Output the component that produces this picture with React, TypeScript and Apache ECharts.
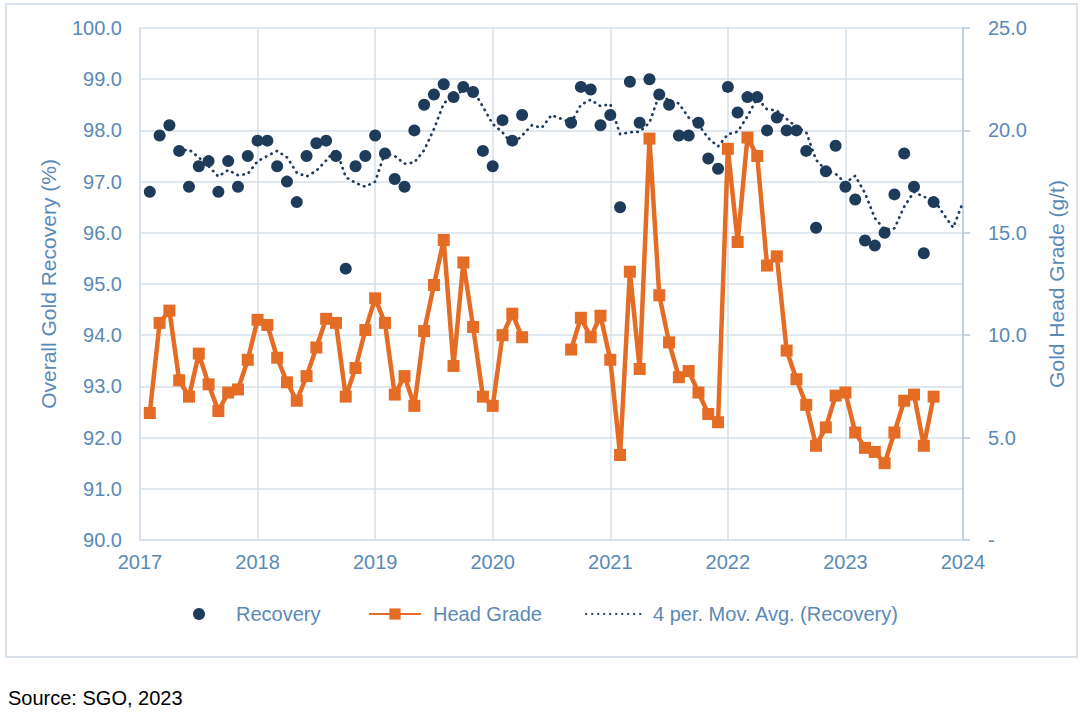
import React, { useEffect, useRef } from 'react';
import * as echarts from 'echarts';

// monthly figures, Jan 2017 .. Dec 2023 (null = no data that month)
const months: string[] = [];
for (let y = 2017; y <= 2023; y++) {
  for (let m = 1; m <= 12; m++) months.push(`${y}-${String(m).padStart(2, '0')}`);
}

const recovery: (number | null)[] = [
  96.8, 97.9, 98.1, 97.6, 96.9, 97.3, 97.4, 96.8, 97.4, 96.9, 97.5, 97.8,
  97.8, 97.3, 97.0, 96.6, 97.5, 97.75, 97.8, 97.5, 95.3, 97.3, 97.5, 97.9,
  97.55, 97.05, 96.9, 98.0, 98.5, 98.7, 98.9, 98.65, 98.85, 98.75, 97.6, 97.3,
  98.2, 97.8, 98.3, null, null, null, null, 98.15, 98.85, 98.8, 98.1, 98.3,
  96.5, 98.95, 98.15, 99.0, 98.7, 98.5, 97.9, 97.9, 98.15, 97.45, 97.25, 98.85,
  98.35, 98.65, 98.65, 98.0, 98.25, 98.0, 98.0, 97.6, 96.1, 97.2, 97.7, 96.9,
  96.65, 95.85, 95.75, 96.0, 96.75, 97.55, 96.9, 95.6, 96.6, null, null, null,
];

const headGrade: (number | null)[] = [
  6.2, 10.6, 11.2, 7.8, 7.0, 9.1, 7.6, 6.3, 7.2, 7.35, 8.8, 10.75,
  10.5, 8.9, 7.7, 6.8, 8.0, 9.4, 10.8, 10.6, 7.0, 8.4, 10.25, 11.8,
  10.6, 7.1, 8.0, 6.55, 10.2, 12.45, 14.65, 8.5, 13.55, 10.4, 7.0, 6.55,
  10.0, 11.05, 9.9, null, null, null, null, 9.3, 10.85, 9.9, 10.95, 8.8,
  4.15, 13.1, 8.35, 19.6, 11.95, 9.65, 7.95, 8.25, 7.2, 6.15, 5.75, 19.1,
  14.55, 19.65, 18.75, 13.4, 13.85, 9.25, 7.85, 6.6, 4.6, 5.5, 7.05, 7.2,
  5.25, 4.5, 4.3, 3.75, 5.25, 6.8, 7.1, 4.6, 7.0, null, null, null,
];

const yearLabels = ['2017', '2018', '2019', '2020', '2021', '2022', '2023', '2024'];

const MA_PERIOD = 4;
const BLUE_TEXT = '#5b89b6';
const GRID = '#d5dfea';
const NAVY = '#1f3b5a';
const ORANGE = '#e46c24';
const FONT = '"Liberation Sans", Arial, sans-serif';

// excel-style trailing moving average: blanks in the window are skipped
const movingAvg = recovery.map((_, k) => {
  if (k < MA_PERIOD - 1) return null;
  const win = recovery.slice(k - MA_PERIOD + 1, k + 1).filter((v): v is number => v != null);
  return win.length ? win.reduce((a, b) => a + b, 0) / win.length : null;
});

// each month's value sits at the month end (start of the following month)
const xOf = (k: number) => k + 1;

const App: React.FC = () => {
  const chartRef = useRef<HTMLDivElement>(null);

  useEffect(() => {
    document.body.style.margin = '0';
    const chart = echarts.init(chartRef.current, null, { renderer: 'svg' });

    const legendBase = {
      top: 604,
      padding: 0,
      orient: 'horizontal',
      textStyle: { color: BLUE_TEXT, fontSize: 20, fontFamily: FONT },
    };

    const option = {
      animation: false,
      textStyle: { fontFamily: FONT },
      grid: { left: 140, right: 124, top: 28, bottom: 173 },
      graphic: [
        {
          type: 'rect',
          silent: true,
          z: -1,
          shape: { x: 6, y: 4, width: 1071, height: 653 },
          style: { fill: 'none', stroke: '#d9e2ec', lineWidth: 2 },
        },
        {
          type: 'text',
          left: 8,
          top: 688,
          style: { text: 'Source: SGO, 2023', fill: '#000', fontSize: 20, fontFamily: FONT },
        },
      ],
      legend: [
        {
          ...legendBase,
          left: 193,
          data: ['Recovery'],
          itemWidth: 12,
          itemHeight: 12,
          textStyle: { ...legendBase.textStyle, padding: [0, 0, 0, 26] },
        },
        {
          ...legendBase,
          left: 368,
          data: ['Head Grade'],
          itemWidth: 52,
          itemHeight: 14,
          textStyle: { ...legendBase.textStyle, padding: [0, 0, 0, 7] },
        },
        {
          ...legendBase,
          left: 585,
          data: ['4 per. Mov. Avg. (Recovery)'],
          itemWidth: 56,
          itemHeight: 14,
          itemStyle: { color: 'rgba(0,0,0,0)', borderWidth: 0 },
          textStyle: { ...legendBase.textStyle, padding: [0, 0, 0, 6] },
        },
      ],
      xAxis: {
        type: 'value',
        min: 0,
        max: 84,
        interval: 12,
        axisLine: { show: true, lineStyle: { color: GRID, width: 1.5 } },
        axisTick: { show: false },
        axisLabel: {
          color: BLUE_TEXT,
          fontSize: 20,
          margin: 12,
          formatter: (v: number) => yearLabels[v / 12] ?? '',
        },
        splitLine: { show: true, lineStyle: { color: GRID, width: 1.5 } },
      },
      yAxis: [
        {
          type: 'value',
          min: 90,
          max: 100,
          interval: 1,
          name: 'Overall Gold Recovery (%)',
          nameLocation: 'middle',
          nameRotate: 90,
          nameGap: 81,
          nameTextStyle: { color: BLUE_TEXT, fontSize: 21 },
          axisLine: { show: true, lineStyle: { color: GRID, width: 1.5 } },
          axisTick: { show: false },
          axisLabel: {
            color: BLUE_TEXT,
            fontSize: 20,
            margin: 18,
            formatter: (v: number) => v.toFixed(1),
          },
          splitLine: { show: true, lineStyle: { color: GRID, width: 1.5 } },
        },
        {
          type: 'value',
          min: 0,
          max: 25,
          interval: 5,
          position: 'right',
          name: 'Gold Head Grade (g/t)',
          nameLocation: 'middle',
          nameRotate: 90,
          nameGap: 83,
          nameTextStyle: { color: BLUE_TEXT, fontSize: 21 },
          axisLine: { show: true, lineStyle: { color: '#b9c9da', width: 1.5 } },
          axisTick: { show: true, length: 7, lineStyle: { color: '#b9c9da', width: 1.5 } },
          axisLabel: {
            color: BLUE_TEXT,
            fontSize: 20,
            margin: 25,
            formatter: (v: number) => (v === 0 ? '-' : v.toFixed(1)),
          },
          splitLine: { show: false },
        },
      ],
      series: [
        {
          name: 'Recovery',
          type: 'scatter',
          yAxisIndex: 0,
          symbol: 'circle',
          symbolSize: 12,
          itemStyle: { color: NAVY, opacity: 1 },
          data: recovery
            .map((v, k) => (v == null ? null : [xOf(k), v]))
            .filter((d) => d != null),
          z: 2,
        },
        {
          name: 'Head Grade',
          type: 'line',
          yAxisIndex: 1,
          symbol: 'rect',
          symbolSize: 12,
          showAllSymbol: true,
          connectNulls: false,
          lineStyle: { color: ORANGE, width: 4.5, join: 'round' },
          itemStyle: { color: ORANGE },
          data: headGrade.map((v, k) => [xOf(k), v == null ? '-' : v]),
          z: 3,
        },
        {
          name: '4 per. Mov. Avg. (Recovery)',
          type: 'line',
          yAxisIndex: 0,
          symbol: 'none',
          connectNulls: true,
          lineStyle: { color: NAVY, width: 2.7, type: [0.4, 5.6], cap: 'round' },
          itemStyle: { color: NAVY },
          data: movingAvg
            .map((v, k) => (v == null ? null : [xOf(k), v]))
            .filter((d) => d != null),
          z: 4,
        },
      ],
    };

    chart.setOption(option);

    return () => {
      chart.dispose();
    };
  }, []);

  return <div ref={chartRef} style={{ width: '1087px', height: '713px' }} data-months={months.length} />;
};

export default App;
